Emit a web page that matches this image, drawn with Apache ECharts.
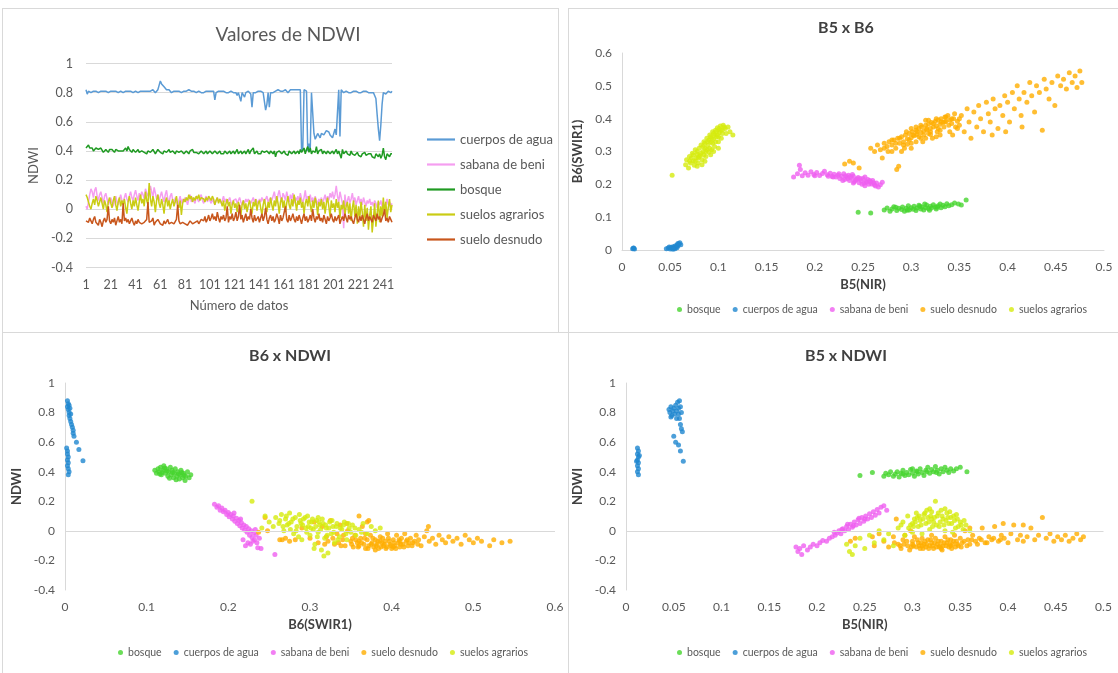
<!DOCTYPE html>
<html>
<head>
<meta charset="utf-8">
<title>Valores de NDWI</title>
<script src="https://cdn.jsdelivr.net/npm/echarts@6/dist/echarts.min.js"></script>
<style>
  html, body { margin: 0; padding: 0; background: #fff; overflow: hidden; }
  body { width: 1118px; height: 673px; position: relative; }
  .panel { position: absolute; border: 1px solid #d9d9d9; background: #fff; }
  #p1 { left: 2px; top: 8px; width: 555px; height: 323px; }
  #p2 { left: 568px; top: 8px; width: 560px; height: 323px; }
  #p3 { left: 2px; top: 332px; width: 570px; height: 345px; }
  #p4 { left: 568px; top: 332px; width: 560px; height: 345px; }
</style>
</head>
<body>
<div id="p1" class="panel"></div>
<div id="p2" class="panel"></div>
<div id="p3" class="panel"></div>
<div id="p4" class="panel"></div>
<script>
const FONT = "Lato, 'Liberation Sans', sans-serif";

// ---- clases ----
const lineClasses = ["cuerpos de agua", "sabana de beni", "bosque", "suelos agrarios", "suelo desnudo"];
const scatterClasses = ["bosque", "cuerpos de agua", "sabana de beni", "suelo desnudo", "suelos agrarios"];

// ---- Valores de NDWI por muestra (en centésimas) ----
const ndwiAgua = [
  82,79,81,81,80,81,81,80,81,81, 80,81,81,82,81,80,81,81,80,81,
  81,82,81,80,81,81,80,80,81,81, 80,81,81,80,81,82,81,81,80,81,
  81,81,80,81,81,82,81,80,81,81, 81,80,81,81,82,81,80,81,82,85,
  88,86,87,84,83,82,81,82,81,80, 81,81,80,81,82,81,81,80,81,81,
  80,81,81,82,81,81,80,81,81,80, 81,81,80,80,81,80,81,81,80,81,
  80,81,80,81,75,80,81,81,80,81, 80,81,80,80,81,80,79,81,80,80,
  81,80,78,80,79,74,80,79,77,80, 80,81,80,79,70,80,81,80,80,81,
  80,81,80,80,81,68,72,80,70,80, 81,80,81,81,80,82,81,81,80,81,
  81,82,81,80,81,82,81,82,81,82, 81,82,81,82,40,42,82,81,81,40,
  45,41,80,81,52,48,50,52,51,49, 52,53,51,52,54,55,53,51,50,49,
  52,55,51,50,82,50,82,81,80,80, 81,80,80,81,80,80,81,80,81,80,
  80,81,80,80,81,80,81,80,80,81, 80,81,80,81,76,65,55,47,58,72,
  80,80,79,80,81,81,80,81
];
const ndwiBosque = [
  42,43,44,42,41,42,40,41,42,43, 41,40,42,41,39,40,41,40,39,41,
  40,41,40,39,41,42,40,39,40,41, 40,41,42,40,43,41,40,39,41,40,
  39,40,41,39,38,40,41,39,40,38, 40,41,39,40,41,40,38,39,41,40,
  39,40,38,40,41,39,40,41,39,38, 40,39,38,40,41,39,38,40,39,38,
  39,40,39,38,40,39,41,39,38,39, 40,38,39,40,39,38,39,40,38,39,
  40,39,38,39,40,41,38,39,40,38, 39,38,40,39,38,39,40,38,39,40,
  38,39,41,38,39,40,38,39,40,38, 39,41,38,40,39,42,38,39,40,38,
  39,38,40,41,39,38,40,39,38,40, 39,38,40,36,39,38,40,39,38,39,
  40,38,39,37,40,41,38,39,40,38, 39,40,38,41,39,40,42,38,41,43,
  39,42,38,40,41,39,43,38,40,39, 41,38,40,39,38,40,41,38,39,40,
  38,39,41,38,40,39,35,41,38,39, 40,38,39,37,40,38,39,37,38,39,
  37,38,36,38,37,39,37,36,38,37, 38,36,37,35,38,37,36,38,35,37,
  42,36,34,38,37,36,38,38
];
const ndwiSabana = [
  2,0,5,10,14,12,8,13,15,9, 6,10,12,8,4,9,11,7,3,5,
  8,4,2,6,9,5,3,7,10,6, 4,8,11,7,5,9,12,8,6,10,
  13,9,6,11,8,12,10,7,14,11, 9,13,16,12,8,15,11,7,10,6,
  9,12,8,5,10,13,7,4,9,11, 6,3,8,5,2,6,9,4,7,5,
  8,6,3,7,10,5,8,6,4,9, 7,5,8,10,6,4,7,9,5,8,
  6,4,7,5,3,6,8,5,7,4, 6,9,5,7,4,6,8,5,3,6,
  5,7,4,6,8,5,3,6,4,7, 5,7,6,4,6,8,5,7,6,4,
  7,5,8,6,4,7,9,5,6,8, 6,9,12,7,4,10,13,8,5,11,
  9,6,12,8,5,10,7,11,4,8, 6,9,5,11,7,4,8,13,6,9,
  7,10,5,8,4,9,6,3,7,5, 8,4,7,10,5,9,6,11,8,12,
  7,10,16,9,5,12,8,4,-13,10, 2,6,9,4,7,11,5,8,3,6,
  9,4,7,3,8,5,2,6,4,7, 3,5,2,6,4,1,5,3,6,2,
  5,1,4,7,3,5,2,4
];
const ndwiAgrarios = [
  10,8,5,2,0,4,7,3,9,6, 2,5,8,4,0,6,3,-2,5,8,
  4,1,6,9,3,-1,5,8,2,6, 3,7,1,-3,5,9,4,0,6,2,
  8,3,-1,5,10,4,7,2,12,6, 3,18,7,2,9,5,-2,6,10,4,
  1,7,3,-3,5,8,2,6,0,4, 7,2,5,9,3,1,6,-4,4,7,
  5,8,6,10,7,9,5,8,6,9, 7,10,6,8,9,7,5,8,6,9,
  8,6,9,7,3,6,8,4,7,5, 2,6,-1,4,7,2,5,-3,3,6,
  1,4,-2,5,2,-4,3,6,0,4, -2,3,6,1,-3,5,2,7,-1,4,
  6,1,-4,3,7,2,-2,5,1,8, 3,-1,6,2,9,4,-3,5,8,1,
  6,-2,4,9,3,0,7,2,10,5, -1,6,3,8,1,5,-3,4,7,2,
  9,3,-2,6,1,8,4,-4,5,2, 7,0,5,-3,4,8,2,-5,6,1,
  4,-2,7,1,5,-6,3,0,6,-4, 2,5,-3,4,-8,1,6,-5,3,-10,
  2,-6,5,-2,-12,3,-8,1,-14,-4, 2,-16,-7,4,-12,-3,6,-9,2,-5,
  8,-3,5,-6,1,7,-2,3
];
const ndwiDesnudo = [
  -8,-7,-9,-6,-8,-10,-7,-5,-9,-8, -11,-7,-9,-12,-8,-6,-9,-7,2,-8,
  -10,-7,-9,-6,-11,-8,-5,-9,-7,-10, 4,-8,-6,-9,-7,-10,-8,-6,-9,-11,
  -8,-10,-7,-9,-8,-10,-11,-9,-8,-7, 5,-9,-10,-8,-6,-11,-9,-10,-7,-8,
  -10,-9,-11,-8,-10,-9,-7,-10,-11,-9, -8,-10,-9,-7,3,-8,-10,-11,-9,-8,
  -10,-9,-11,-10,-8,-9,-10,-11,-9,-10, -8,-10,-9,-7,-6,-8,-5,-9,-7,-4,
  -8,-6,-3,-7,-5,-8,-2,-6,-9,-5, -7,-4,-8,-6,2,-9,-5,-7,-3,-8,
  -6,-2,-8,-5,3,-7,-4,-9,-6,-3, -8,-5,-7,0,-6,-9,-4,-8,-7,-5,
  -9,-6,-3,-8,-5,1,-7,-10,-6,-4, -8,-5,-9,-7,-3,-6,-10,-4,-8,-6,
  -5,2,-7,-9,-4,-8,-6,-3,-7,-9, -5,-8,-4,-7,-10,-6,-3,-8,-5,-9,
  -7,-4,-8,0,-6,-9,-5,-7,-3,-8, -6,-9,-4,-7,-10,-5,-8,-6,-3,-7,
  -9,-5,-8,-6,-4,-10,-7,-5,-8,-3, -6,-9,-4,-7,-5,-8,-10,-6,-3,-7,
  -9,-5,-8,-4,-7,-10,-6,-3,-8,-5, -7,-9,-4,-6,-8,-3,-7,-5,-9,-6,
  -4,0,-8,-6,-9,-5,-7,-9
];

// ---- B5 x B6 : [B5(NIR), B6(SWIR1)] ----
const b5b6Bosque = [[0.245,0.115],[0.258,0.113],[0.272,0.122],[0.275,0.128],[0.278,0.118],[0.28,0.125],[0.282,0.132],[0.285,0.12],[0.287,0.127],[0.29,0.123],[0.291,0.131],[0.293,0.118],[0.295,0.127],[0.297,0.135],[0.298,0.122],[0.3,0.129],[0.302,0.124],[0.303,0.133],[0.305,0.12],[0.306,0.128],[0.308,0.136],[0.31,0.125],[0.311,0.131],[0.313,0.122],[0.315,0.129],[0.316,0.137],[0.318,0.126],[0.32,0.133],[0.321,0.128],[0.323,0.138],[0.325,0.131],[0.326,0.125],[0.328,0.135],[0.33,0.14],[0.331,0.129],[0.333,0.136],[0.335,0.132],[0.337,0.141],[0.339,0.135],[0.342,0.138],[0.345,0.143],[0.349,0.14],[0.352,0.137],[0.357,0.152],[0.284,0.13],[0.296,0.121],[0.309,0.133],[0.319,0.121],[0.327,0.13],[0.314,0.14]];
const b5b6Agua = [[0.011,0.004],[0.012,0.006],[0.013,0.003],[0.012,0.005],[0.046,0.004],[0.048,0.006],[0.05,0.003],[0.051,0.008],[0.052,0.005],[0.053,0.01],[0.054,0.006],[0.055,0.012],[0.055,0.004],[0.056,0.009],[0.057,0.015],[0.057,0.007],[0.058,0.012],[0.059,0.018],[0.06,0.022],[0.061,0.016],[0.058,0.02],[0.053,0.002],[0.049,0.009]];
const b5b6Sabana = [[0.178,0.222],[0.182,0.232],[0.184,0.258],[0.185,0.245],[0.187,0.226],[0.19,0.235],[0.193,0.228],[0.196,0.238],[0.199,0.23],[0.202,0.236],[0.205,0.227],[0.208,0.233],[0.21,0.24],[0.213,0.229],[0.216,0.234],[0.218,0.224],[0.22,0.231],[0.222,0.222],[0.224,0.228],[0.226,0.218],[0.228,0.225],[0.23,0.232],[0.231,0.215],[0.233,0.222],[0.235,0.228],[0.236,0.212],[0.238,0.219],[0.24,0.225],[0.241,0.208],[0.243,0.215],[0.245,0.221],[0.246,0.205],[0.248,0.212],[0.25,0.218],[0.251,0.203],[0.253,0.209],[0.255,0.215],[0.256,0.2],[0.258,0.207],[0.26,0.212],[0.262,0.198],[0.264,0.204],[0.266,0.192],[0.268,0.199],[0.27,0.206],[0.232,0.226],[0.244,0.217],[0.252,0.222],[0.259,0.201],[0.239,0.23],[0.225,0.232],[0.229,0.212],[0.234,0.218],[0.237,0.224],[0.242,0.212],[0.247,0.218],[0.249,0.2],[0.254,0.206],[0.257,0.212],[0.261,0.205],[0.263,0.195],[0.219,0.222],[0.214,0.225],[0.2,0.226],[0.24,0.204],[0.252,0.196]];
const b5b6Desnudo = [[0.231,0.262],[0.236,0.27],[0.24,0.265],[0.246,0.25],[0.258,0.31],[0.262,0.3],[0.265,0.32],[0.268,0.305],[0.27,0.28],[0.272,0.325],[0.275,0.315],[0.277,0.33],[0.28,0.32],[0.282,0.335],[0.285,0.245],[0.287,0.255],[0.286,0.34],[0.288,0.325],[0.29,0.345],[0.292,0.33],[0.294,0.35],[0.296,0.338],[0.298,0.355],[0.3,0.342],[0.301,0.36],[0.303,0.348],[0.305,0.365],[0.306,0.352],[0.308,0.37],[0.31,0.358],[0.311,0.375],[0.313,0.362],[0.315,0.38],[0.316,0.366],[0.318,0.384],[0.32,0.37],[0.321,0.388],[0.323,0.375],[0.325,0.392],[0.326,0.378],[0.328,0.396],[0.33,0.383],[0.331,0.4],[0.333,0.388],[0.335,0.405],[0.336,0.392],[0.338,0.41],[0.34,0.396],[0.342,0.385],[0.344,0.4],[0.346,0.375],[0.348,0.392],[0.35,0.38],[0.296,0.322],[0.31,0.34],[0.32,0.352],[0.305,0.33],[0.327,0.36],[0.284,0.31],[0.3,0.37],[0.315,0.395],[0.3,0.31],[0.29,0.3],[0.33,0.35],[0.34,0.36],[0.272,0.31],[0.276,0.3],[0.28,0.335],[0.284,0.325],[0.288,0.34],[0.292,0.32],[0.295,0.36],[0.298,0.335],[0.302,0.35],[0.305,0.375],[0.308,0.345],[0.31,0.38],[0.313,0.35],[0.316,0.37],[0.318,0.395],[0.32,0.36],[0.323,0.385],[0.326,0.4],[0.328,0.37],[0.331,0.39],[0.334,0.375],[0.336,0.405],[0.339,0.38],[0.342,0.4],[0.345,0.415],[0.348,0.37],[0.35,0.4],[0.322,0.34],[0.312,0.33],[0.33,0.365],[0.343,0.35],[0.293,0.31],[0.326,0.345],[0.306,0.36],[0.318,0.355],[0.335,0.39],[0.28,0.3],[0.3,0.325],[0.315,0.34],[0.352,0.41],[0.355,0.36],[0.358,0.43],[0.36,0.39],[0.362,0.34],[0.365,0.42],[0.368,0.375],[0.37,0.44],[0.372,0.4],[0.375,0.36],[0.378,0.45],[0.38,0.415],[0.382,0.39],[0.385,0.46],[0.387,0.43],[0.39,0.37],[0.392,0.44],[0.395,0.41],[0.397,0.47],[0.4,0.45],[0.402,0.39],[0.405,0.48],[0.407,0.43],[0.41,0.5],[0.412,0.46],[0.414,0.41],[0.417,0.48],[0.42,0.45],[0.423,0.51],[0.425,0.47],[0.428,0.42],[0.43,0.5],[0.433,0.48],[0.436,0.365],[0.438,0.52],[0.44,0.49],[0.443,0.46],[0.446,0.51],[0.449,0.44],[0.452,0.53],[0.455,0.5],[0.458,0.52],[0.461,0.49],[0.464,0.54],[0.467,0.51],[0.47,0.53],[0.472,0.495],[0.475,0.545],[0.477,0.51],[0.398,0.36],[0.415,0.375],[0.384,0.35]];
const b5b6Agrarios = [[0.052,0.228],[0.066,0.26],[0.067,0.275],[0.069,0.25],[0.07,0.285],[0.071,0.265],[0.073,0.295],[0.074,0.272],[0.075,0.258],[0.076,0.305],[0.077,0.28],[0.078,0.292],[0.079,0.265],[0.08,0.31],[0.081,0.288],[0.082,0.32],[0.083,0.275],[0.084,0.3],[0.085,0.33],[0.086,0.31],[0.087,0.285],[0.088,0.34],[0.089,0.318],[0.09,0.298],[0.091,0.35],[0.092,0.328],[0.093,0.305],[0.094,0.36],[0.095,0.338],[0.096,0.315],[0.097,0.365],[0.098,0.345],[0.099,0.372],[0.1,0.33],[0.101,0.358],[0.102,0.378],[0.103,0.34],[0.104,0.365],[0.105,0.38],[0.107,0.37],[0.108,0.355],[0.11,0.375],[0.112,0.36],[0.115,0.35],[0.086,0.27],[0.092,0.29],[0.1,0.31],[0.078,0.255],[0.095,0.355],[0.07,0.27],[0.072,0.28],[0.074,0.29],[0.076,0.27],[0.078,0.3],[0.08,0.285],[0.082,0.295],[0.084,0.315],[0.086,0.325],[0.088,0.305],[0.09,0.335],[0.092,0.345],[0.094,0.325],[0.096,0.35],[0.098,0.36],[0.1,0.345],[0.102,0.365],[0.104,0.355],[0.106,0.375],[0.083,0.26],[0.087,0.3],[0.091,0.31],[0.097,0.33],[0.101,0.37],[0.089,0.33],[0.085,0.29],[0.093,0.34],[0.099,0.35],[0.079,0.28],[0.095,0.3]];

// ---- B6 x NDWI : [B6(SWIR1), NDWI] ----
const b6ndwiBosque = [[0.11,0.41],[0.112,0.39],[0.114,0.42],[0.115,0.4],[0.117,0.43],[0.118,0.38],[0.12,0.41],[0.121,0.44],[0.123,0.39],[0.124,0.42],[0.126,0.37],[0.127,0.4],[0.129,0.43],[0.13,0.38],[0.131,0.41],[0.133,0.36],[0.134,0.39],[0.135,0.42],[0.137,0.37],[0.138,0.4],[0.14,0.35],[0.141,0.38],[0.142,0.41],[0.144,0.36],[0.145,0.39],[0.147,0.34],[0.148,0.37],[0.15,0.4],[0.152,0.36],[0.154,0.38],[0.119,0.395],[0.125,0.405],[0.132,0.395],[0.139,0.385],[0.146,0.375],[0.128,0.355],[0.136,0.345],[0.122,0.425],[0.143,0.395],[0.116,0.385]];
const b6ndwiAgua = [[0.003,0.88],[0.004,0.86],[0.003,0.84],[0.005,0.85],[0.004,0.82],[0.005,0.8],[0.006,0.83],[0.005,0.78],[0.006,0.76],[0.007,0.79],[0.007,0.74],[0.008,0.72],[0.009,0.7],[0.01,0.68],[0.01,0.66],[0.011,0.64],[0.014,0.6],[0.017,0.55],[0.022,0.475],[0.002,0.56],[0.003,0.54],[0.003,0.52],[0.004,0.5],[0.003,0.48],[0.004,0.46],[0.003,0.44],[0.004,0.42],[0.005,0.4],[0.004,0.38]];
const b6ndwiSabana = [[0.183,0.18],[0.186,0.16],[0.188,0.17],[0.19,0.14],[0.192,0.155],[0.194,0.13],[0.196,0.14],[0.198,0.11],[0.2,0.125],[0.201,0.095],[0.203,0.11],[0.205,0.08],[0.206,0.1],[0.208,0.065],[0.21,0.085],[0.211,0.05],[0.213,0.07],[0.214,0.035],[0.216,0.055],[0.217,0.02],[0.219,0.04],[0.22,0.005],[0.222,0.03],[0.223,-0.01],[0.225,0.015],[0.226,-0.03],[0.228,0.0],[0.229,-0.045],[0.231,-0.015],[0.232,-0.06],[0.234,-0.03],[0.235,-0.08],[0.23,-0.07],[0.227,-0.09],[0.224,-0.08],[0.221,-0.1],[0.238,-0.05],[0.24,-0.12],[0.236,-0.115],[0.257,-0.16],[0.215,0.08],[0.207,0.12],[0.218,-0.06],[0.233,0.01]];
const b6ndwiDesnudo = [[0.237,-0.01],[0.245,0.09],[0.248,0.0],[0.263,-0.06],[0.266,-0.06],[0.27,-0.05],[0.275,-0.07],[0.282,-0.06],[0.29,0.02],[0.3,-0.05],[0.305,0.06],[0.31,-0.08],[0.315,0.03],[0.32,-0.04],[0.325,0.07],[0.33,-0.09],[0.333,-0.02],[0.337,0.04],[0.34,-0.06],[0.343,-0.1],[0.346,0.0],[0.35,-0.07],[0.353,-0.11],[0.355,-0.03],[0.358,-0.08],[0.36,-0.1],[0.362,-0.05],[0.364,0.03],[0.366,-0.09],[0.368,-0.12],[0.37,-0.06],[0.372,-0.1],[0.374,-0.03],[0.376,-0.08],[0.378,-0.11],[0.38,-0.06],[0.382,-0.09],[0.384,-0.12],[0.386,-0.04],[0.388,-0.08],[0.39,-0.1],[0.392,-0.07],[0.394,-0.11],[0.396,-0.05],[0.398,-0.09],[0.4,-0.12],[0.402,-0.06],[0.404,-0.1],[0.406,-0.03],[0.408,-0.08],[0.41,-0.11],[0.412,-0.05],[0.414,-0.09],[0.416,-0.02],[0.418,-0.07],[0.42,-0.1],[0.423,-0.05],[0.426,-0.08],[0.43,-0.03],[0.433,-0.06],[0.436,-0.1],[0.44,-0.04],[0.443,0.0],[0.446,-0.07],[0.45,-0.05],[0.454,-0.09],[0.458,-0.03],[0.462,-0.06],[0.466,-0.08],[0.47,-0.04],[0.475,-0.07],[0.48,-0.05],[0.485,-0.09],[0.49,-0.03],[0.495,-0.06],[0.5,-0.08],[0.505,-0.05],[0.51,-0.07],[0.52,-0.1],[0.525,-0.06],[0.535,-0.08],[0.545,-0.07],[0.352,-0.05],[0.368,-0.02],[0.38,-0.13],[0.395,-0.02],[0.41,-0.07],[0.37,0.06],[0.345,0.05],[0.445,0.03],[0.386,-0.07],[0.402,-0.11],[0.36,-0.07],[0.36,0.1],[0.372,0.07],[0.351,-0.09],[0.356,-0.06],[0.359,-0.11],[0.363,-0.08],[0.367,-0.05],[0.371,-0.12],[0.375,-0.09],[0.377,-0.05],[0.381,-0.1],[0.383,-0.07],[0.387,-0.11],[0.389,-0.05],[0.391,-0.09],[0.393,-0.12],[0.397,-0.07],[0.399,-0.1],[0.403,-0.08],[0.405,-0.12],[0.409,-0.06],[0.411,-0.09],[0.415,-0.11],[0.419,-0.06],[0.421,-0.08],[0.425,-0.1],[0.428,-0.07],[0.432,-0.09],[0.322,-0.07],[0.328,-0.05],[0.335,-0.08],[0.338,-0.1],[0.341,-0.03],[0.318,-0.09]];
const b6ndwiAgrarios = [[0.229,0.2],[0.241,0.02],[0.245,0.1],[0.25,0.06],[0.255,0.03],[0.258,0.09],[0.262,0.05],[0.265,0.11],[0.268,0.0],[0.27,0.08],[0.272,0.04],[0.275,0.12],[0.277,0.06],[0.28,-0.02],[0.282,0.09],[0.284,0.03],[0.287,0.11],[0.289,0.05],[0.29,-0.06],[0.292,0.08],[0.295,0.02],[0.297,0.1],[0.3,-0.03],[0.302,0.06],[0.304,0.01],[0.306,-0.09],[0.308,0.07],[0.31,-0.01],[0.312,0.04],[0.314,-0.13],[0.316,0.05],[0.318,-0.05],[0.32,0.02],[0.322,-0.15],[0.324,0.06],[0.326,-0.02],[0.328,0.03],[0.33,-0.08],[0.333,0.05],[0.336,-0.04],[0.339,0.01],[0.342,0.06],[0.345,-0.06],[0.348,0.02],[0.352,0.04],[0.356,-0.03],[0.36,0.01],[0.365,0.05],[0.37,-0.02],[0.375,0.03],[0.38,0.0],[0.386,0.02],[0.298,0.03],[0.286,-0.04],[0.31,0.09],[0.276,0.01],[0.317,-0.17],[0.305,-0.12],[0.263,0.07],[0.267,0.03],[0.271,0.1],[0.274,0.05],[0.279,0.08],[0.283,0.0],[0.288,0.07],[0.291,0.04],[0.294,0.09],[0.296,-0.01],[0.299,0.06],[0.301,0.02],[0.303,0.08],[0.307,0.03],[0.309,-0.04],[0.311,0.06],[0.313,0.01],[0.315,0.08],[0.319,0.04],[0.321,-0.03],[0.323,0.02],[0.327,0.07],[0.329,-0.01],[0.332,0.03],[0.334,-0.06],[0.337,0.02],[0.341,0.04],[0.344,-0.02],[0.347,0.05],[0.35,-0.01],[0.355,0.02],[0.363,-0.01]];

// ---- B5 x NDWI : [B5(NIR), NDWI] ----
const b5ndwiBosque = [[0.245,0.375],[0.258,0.395],[0.27,0.37],[0.272,0.39],[0.275,0.38],[0.277,0.4],[0.28,0.37],[0.282,0.385],[0.284,0.4],[0.286,0.365],[0.288,0.39],[0.29,0.41],[0.292,0.375],[0.294,0.395],[0.296,0.38],[0.298,0.415],[0.3,0.39],[0.302,0.37],[0.304,0.405],[0.306,0.385],[0.308,0.42],[0.31,0.395],[0.312,0.375],[0.314,0.41],[0.316,0.43],[0.318,0.39],[0.32,0.415],[0.322,0.4],[0.324,0.435],[0.326,0.41],[0.328,0.385],[0.33,0.42],[0.332,0.4],[0.334,0.43],[0.336,0.41],[0.338,0.395],[0.34,0.42],[0.343,0.405],[0.346,0.42],[0.35,0.43],[0.357,0.4],[0.29,0.385],[0.305,0.4],[0.315,0.4],[0.3,0.42],[0.325,0.395]];
const b5ndwiAgua = [[0.012,0.56],[0.013,0.54],[0.012,0.52],[0.013,0.5],[0.012,0.48],[0.013,0.46],[0.012,0.44],[0.013,0.42],[0.012,0.4],[0.013,0.38],[0.014,0.51],[0.011,0.47],[0.045,0.82],[0.046,0.8],[0.047,0.84],[0.048,0.78],[0.049,0.81],[0.05,0.83],[0.051,0.79],[0.052,0.85],[0.053,0.81],[0.054,0.87],[0.055,0.83],[0.055,0.79],[0.056,0.88],[0.056,0.76],[0.057,0.84],[0.057,0.72],[0.058,0.8],[0.058,0.69],[0.059,0.67],[0.05,0.64],[0.052,0.6],[0.055,0.58],[0.057,0.54],[0.06,0.47],[0.047,0.77],[0.053,0.76]];
const b5ndwiSabana = [[0.178,-0.11],[0.18,-0.14],[0.182,-0.12],[0.184,-0.16],[0.186,-0.1],[0.19,-0.13],[0.193,-0.11],[0.196,-0.09],[0.2,-0.1],[0.203,-0.08],[0.206,-0.065],[0.21,-0.07],[0.213,-0.05],[0.216,-0.04],[0.219,-0.03],[0.221,-0.015],[0.223,0.0],[0.225,-0.02],[0.227,0.015],[0.229,0.0],[0.231,0.03],[0.233,0.01],[0.235,0.045],[0.237,0.025],[0.239,0.06],[0.241,0.04],[0.243,0.075],[0.245,0.05],[0.247,0.09],[0.249,0.065],[0.251,0.1],[0.253,0.08],[0.255,0.115],[0.257,0.09],[0.259,0.13],[0.261,0.105],[0.263,0.145],[0.265,0.12],[0.267,0.16],[0.27,0.17],[0.273,0.14],[0.232,0.045],[0.238,0.035],[0.244,0.085],[0.25,0.08],[0.226,0.01],[0.218,-0.01]];
const b5ndwiDesnudo = [[0.235,-0.07],[0.24,-0.05],[0.258,-0.04],[0.26,-0.1],[0.265,-0.02],[0.27,-0.07],[0.275,-0.11],[0.28,-0.04],[0.283,0.08],[0.285,-0.09],[0.288,-0.12],[0.29,-0.06],[0.292,-0.03],[0.295,-0.1],[0.297,-0.13],[0.3,-0.07],[0.302,-0.04],[0.304,-0.11],[0.306,-0.08],[0.308,-0.12],[0.31,-0.05],[0.312,-0.09],[0.314,-0.11],[0.316,-0.06],[0.318,-0.1],[0.32,-0.08],[0.322,-0.12],[0.324,-0.05],[0.326,-0.09],[0.328,-0.11],[0.33,-0.07],[0.332,-0.1],[0.334,-0.04],[0.336,-0.08],[0.338,-0.11],[0.34,-0.06],[0.342,-0.09],[0.344,-0.03],[0.346,-0.07],[0.348,-0.1],[0.35,-0.05],[0.352,-0.08],[0.355,0.0],[0.358,-0.06],[0.36,-0.09],[0.363,-0.03],[0.366,-0.07],[0.37,-0.05],[0.373,0.02],[0.376,-0.08],[0.38,-0.04],[0.383,-0.06],[0.386,0.03],[0.39,-0.07],[0.393,-0.03],[0.396,-0.05],[0.4,-0.08],[0.403,-0.02],[0.406,0.04],[0.41,-0.06],[0.413,-0.03],[0.416,-0.07],[0.42,-0.04],[0.424,0.02],[0.428,-0.06],[0.432,-0.03],[0.436,0.09],[0.44,-0.05],[0.444,-0.02],[0.448,-0.07],[0.452,-0.04],[0.456,-0.06],[0.46,-0.03],[0.464,-0.07],[0.468,-0.05],[0.472,-0.02],[0.476,-0.06],[0.479,-0.04],[0.31,-0.1],[0.33,-0.12],[0.345,-0.11],[0.3,-0.09],[0.32,-0.03],[0.34,-0.1],[0.298,0.0],[0.395,0.05],[0.416,0.04],[0.36,0.02],[0.281,-0.08],[0.287,-0.1],[0.291,-0.09],[0.294,-0.07],[0.299,-0.11],[0.301,-0.1],[0.305,-0.06],[0.307,-0.1],[0.309,-0.08],[0.311,-0.12],[0.313,-0.07],[0.315,-0.09],[0.317,-0.12],[0.319,-0.06],[0.321,-0.1],[0.323,-0.08],[0.325,-0.11],[0.327,-0.07],[0.329,-0.1],[0.331,-0.13],[0.333,-0.08],[0.335,-0.1],[0.337,-0.06],[0.339,-0.09],[0.341,-0.12],[0.343,-0.07],[0.347,-0.09],[0.351,-0.11],[0.354,-0.07],[0.357,-0.1],[0.362,-0.06],[0.368,-0.09],[0.372,-0.06],[0.378,-0.08],[0.385,-0.05],[0.392,-0.06]];
const b5ndwiAgrarios = [[0.231,-0.09],[0.234,-0.14],[0.237,-0.16],[0.24,-0.1],[0.245,-0.05],[0.25,-0.12],[0.255,-0.03],[0.26,-0.08],[0.265,0.0],[0.27,-0.06],[0.275,-0.02],[0.28,-0.1],[0.285,0.02],[0.29,0.06],[0.292,-0.03],[0.295,0.1],[0.298,0.04],[0.3,-0.01],[0.302,0.08],[0.304,0.12],[0.306,0.03],[0.308,0.07],[0.31,-0.02],[0.312,0.11],[0.314,0.05],[0.316,0.09],[0.318,0.01],[0.32,0.13],[0.322,0.06],[0.324,0.2],[0.326,0.1],[0.328,0.03],[0.33,0.14],[0.332,0.08],[0.334,0.0],[0.336,0.12],[0.338,0.05],[0.34,0.09],[0.342,-0.01],[0.344,0.07],[0.346,0.11],[0.348,0.03],[0.35,0.06],[0.353,0.01],[0.356,0.04],[0.36,0.0],[0.305,0.09],[0.315,0.14],[0.325,0.04],[0.335,0.07],[0.3,0.05],[0.32,0.08],[0.301,0.03],[0.303,0.06],[0.307,0.1],[0.309,0.04],[0.311,0.08],[0.313,0.12],[0.317,0.06],[0.319,0.1],[0.321,0.03],[0.323,0.09],[0.327,0.12],[0.329,0.06],[0.331,0.1],[0.333,0.04],[0.337,0.09],[0.339,0.13],[0.341,0.05],[0.343,0.1],[0.345,0.02],[0.347,0.08],[0.351,0.04],[0.354,0.07],[0.296,0.02],[0.288,0.04],[0.318,0.15],[0.334,0.15]];

const lineColors = {
  "cuerpos de agua": "#5b9bd5",
  "sabana de beni": "#f59ef0",
  "bosque": "#1f9a22",
  "suelos agrarios": "#cacc14",
  "suelo desnudo": "#c8561c"
};
const dotColors = {
  "bosque": "#46d42e",
  "cuerpos de agua": "#1f87d0",
  "sabana de beni": "#ef5ff0",
  "suelo desnudo": "#ffae00",
  "suelos agrarios": "#d6eb0e"
};

// ---------- panel 1: línea ----------
const lineValues = {
  "cuerpos de agua": ndwiAgua,
  "sabana de beni": ndwiSabana,
  "bosque": ndwiBosque,
  "suelos agrarios": ndwiAgrarios,
  "suelo desnudo": ndwiDesnudo
};
const sampleIds = ndwiAgua.map((_, i) => String(i + 1));

const chart1 = echarts.init(document.getElementById("p1"));
chart1.setOption({
  animation: false,
  textStyle: { fontFamily: FONT },
  title: {
    text: "Valores de NDWI", left: 285, top: 16, textAlign: "center", padding: 0,
    textStyle: { fontSize: 19, fontWeight: "normal", color: "#595959", fontFamily: FONT }
  },
  legend: {
    data: lineClasses, orient: "vertical", left: 424, top: 124, padding: 0,
    icon: "path://M0,0 L28,0 L28,2.2 L0,2.2 Z",
    itemWidth: 28, itemHeight: 14, itemGap: 12,
    textStyle: { fontSize: 13, color: "#595959", fontFamily: FONT }
  },
  grid: { left: 83, top: 54.5, width: 306, height: 204, outerBoundsMode: "none" },
  xAxis: {
    type: "category", data: sampleIds, boundaryGap: false,
    name: "Número de datos", nameLocation: "middle", nameGap: 32,
    nameTextStyle: { fontSize: 13, color: "#595959", fontFamily: FONT },
    axisLine: { lineStyle: { color: "#d9d9d9" } },
    axisTick: { show: false },
    axisLabel: { interval: 19, fontSize: 12.5, color: "#595959", margin: 11, fontFamily: FONT }
  },
  yAxis: {
    type: "value", min: -0.4, max: 1, interval: 0.2,
    name: "NDWI", nameLocation: "middle", nameGap: 41,
    nameTextStyle: { fontSize: 13, color: "#595959", fontFamily: FONT },
    axisLine: { show: false }, axisTick: { show: false },
    axisLabel: { fontSize: 12.5, color: "#595959", margin: 13, fontFamily: FONT },
    splitLine: { lineStyle: { color: "#d9d9d9" } }
  },
  series: lineClasses.map((name) => ({
    name, type: "line", symbol: "none",
    data: lineValues[name].map((v) => v / 100),
    lineStyle: { width: 1.5, color: lineColors[name] },
    itemStyle: { color: lineColors[name] }
  }))
});

// ---------- paneles de dispersión ----------
function scatterChart(el, cfg) {
  const chart = echarts.init(document.getElementById(el));
  const series = scatterClasses.map((name, i) => {
    const s = {
      name, type: "scatter", symbolSize: 5,
      data: cfg.data[name],
      itemStyle: { color: dotColors[name] }
    };
    if (i === 0 && cfg.zeroLine) {
      s.markLine = {
        silent: true, symbol: "none", label: { show: false },
        lineStyle: { color: "#d9d9d9", type: "solid", width: 1 },
        data: [{ yAxis: 0 }]
      };
    }
    return s;
  });
  chart.setOption({
    animation: false,
    textStyle: { fontFamily: FONT },
    title: {
      text: cfg.title, left: cfg.titleX, top: cfg.titleY, textAlign: "center", padding: 0,
      textStyle: { fontSize: 16, fontWeight: "bold", color: "#404040", fontFamily: FONT }
    },
    legend: {
      data: scatterClasses, left: cfg.legendX, top: cfg.legendY, padding: 0,
      icon: "circle", itemWidth: 5, itemHeight: 5, itemGap: 12,
      textStyle: { fontSize: 10.5, color: "#595959", fontFamily: FONT }
    },
    grid: { left: cfg.grid[0], top: cfg.grid[1], width: cfg.grid[2], height: cfg.grid[3], outerBoundsMode: "none" },
    xAxis: {
      type: "value", min: cfg.x[0], max: cfg.x[1], interval: cfg.x[2],
      name: cfg.xName, nameLocation: "middle", nameGap: cfg.xGap,
      nameTextStyle: { fontSize: 13, fontWeight: "bold", color: "#404040", fontFamily: FONT, padding: cfg.xNamePad || 0 },
      axisLine: { show: !cfg.zeroLine, onZero: false, lineStyle: { color: "#d9d9d9" } },
      axisTick: { show: false }, splitLine: { show: false },
      axisLabel: { fontSize: 12, color: "#595959", margin: 11, fontFamily: FONT }
    },
    yAxis: {
      type: "value", min: cfg.y[0], max: cfg.y[1], interval: cfg.y[2],
      name: cfg.yName, nameLocation: "middle", nameGap: cfg.yGap,
      nameTextStyle: { fontSize: 13, fontWeight: "bold", color: "#404040", fontFamily: FONT },
      axisLine: { show: true, onZero: false, lineStyle: { color: "#d9d9d9" } },
      axisTick: { show: false }, splitLine: { show: false },
      axisLabel: { fontSize: 12, color: "#595959", margin: 10, fontFamily: FONT }
    },
    series
  });
  return chart;
}

scatterChart("p2", {
  title: "B5 x B6", titleX: 277, titleY: 11,
  legendX: 108, legendY: 295,
  grid: [53, 44, 482, 197],
  x: [0, 0.5, 0.05], y: [0, 0.6, 0.1],
  xName: "B5(NIR)", xGap: 27, yName: "B6(SWIR1)", yGap: 26,
  data: {
    "bosque": b5b6Bosque, "cuerpos de agua": b5b6Agua, "sabana de beni": b5b6Sabana,
    "suelo desnudo": b5b6Desnudo, "suelos agrarios": b5b6Agrarios
  }
});

scatterChart("p3", {
  title: "B6 x NDWI", titleX: 287, titleY: 15,
  legendX: 115, legendY: 314,
  grid: [62, 50, 490, 207],
  x: [0, 0.6, 0.1], y: [-0.4, 1, 0.2], zeroLine: true,
  xName: "B6(SWIR1)", xGap: 28, xNamePad: [0, 0, 0, 20], yName: "NDWI", yGap: 31,
  data: {
    "bosque": b6ndwiBosque, "cuerpos de agua": b6ndwiAgua, "sabana de beni": b6ndwiSabana,
    "suelo desnudo": b6ndwiDesnudo, "suelos agrarios": b6ndwiAgrarios
  }
});

scatterChart("p4", {
  title: "B5 x NDWI", titleX: 277, titleY: 15,
  legendX: 108, legendY: 314,
  grid: [57, 50, 477.5, 207],
  x: [0, 0.5, 0.05], y: [-0.4, 1, 0.2], zeroLine: true,
  xName: "B5(NIR)", xGap: 27, yName: "NDWI", yGap: 32,
  data: {
    "bosque": b5ndwiBosque, "cuerpos de agua": b5ndwiAgua, "sabana de beni": b5ndwiSabana,
    "suelo desnudo": b5ndwiDesnudo, "suelos agrarios": b5ndwiAgrarios
  }
});
</script>
</body>
</html>
